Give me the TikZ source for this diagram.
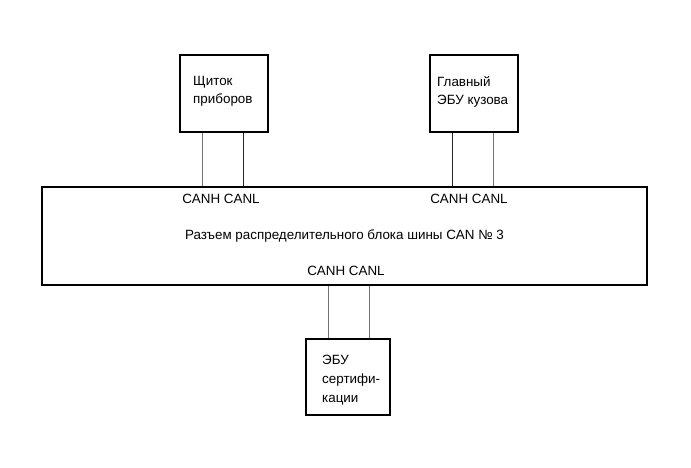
\documentclass[tikz,border=0pt]{standalone}
\usepackage{fontspec}
\setmainfont{Liberation Sans}
\begin{document}
\begin{tikzpicture}[x=1pt,y=-1pt,
  blk/.style={draw=black,line width=1.6pt,minimum width=#1,inner sep=0pt},
  wire/.style={draw=black!55,line width=0.9pt},
  wired/.style={draw=black!85,line width=0.9pt},
  lbl/.style={font=\fontsize{13.4}{18.5}\selectfont,inner sep=0pt,align=left},
]
\useasboundingbox[fill=white] (0,0) rectangle (691,467);
\node[blk=88pt,minimum height=77pt] (b1) at (224,93.5) {};
\node[blk=88pt,minimum height=77pt] (b2) at (474,93.5) {};
\node[blk=605pt,minimum height=98pt] (big) at (344.5,236) {};
\node[blk=84pt,minimum height=76pt] (b3) at (348,377) {};
\node[lbl,anchor=north west] (t1) at (193,76) {Щиток\\приборов};
\node[lbl,anchor=north west] (t2) at (437,76) {Главный\\ЭБУ кузова};
\node[lbl,anchor=north west,font=\fontsize{13.4}{19}\selectfont] (t3) at (322,355) {ЭБУ\\сертифи-\\кации};
\node[lbl] (c1) at (221,199) {CANH CANL};
\node[lbl] (c2) at (469,199) {CANH CANL};
\node[lbl] (c3) at (346,271) {CANH CANL};
\node[lbl] (ct) at (344.5,236) {Разъем распределительного блока шины CAN № 3};
\coordinate (w1) at (202,0);
\coordinate (w2) at (243,0);
\coordinate (w3) at (452,0);
\coordinate (w4) at (493,0);
\coordinate (w5) at (328,0);
\coordinate (w6) at (369,0);
\draw[wire] (w1 |- b1.south) -- (w1 |- big.north);
\draw[wired] (w2 |- b1.south) -- (w2 |- big.north);
\draw[wired] (w3 |- b2.south) -- (w3 |- big.north);
\draw[wire] (w4 |- b2.south) -- (w4 |- big.north);
\draw[wire] (w5 |- big.south) -- (w5 |- b3.north);
\draw[wire] (w6 |- big.south) -- (w6 |- b3.north);
\end{tikzpicture}
\end{document}
